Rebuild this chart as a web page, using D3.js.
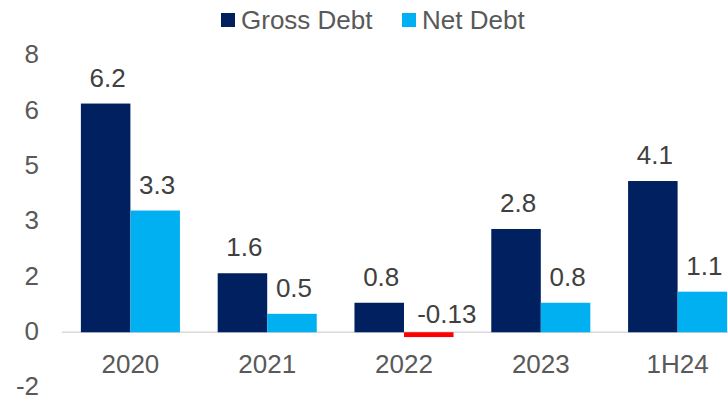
<!DOCTYPE html>
<html>
<head>
<meta charset="utf-8">
<script src="https://cdn.jsdelivr.net/npm/d3@7"></script>
<style>
  body { margin: 0; background: #fff; }
  svg { display: block; font-family: "Liberation Sans", Arial, sans-serif; }
</style>
</head>
<body>
<div id="chart"></div>
<script>
// data
const categories = ["2020", "2021", "2022", "2023", "1H24"];
const grossDebt = [6.2, 1.6, 0.8, 2.8, 4.1];
const netDebt = [3.3, 0.5, -0.13, 0.8, 1.1];
const seriesNames = ["Gross Debt", "Net Debt"];
const yTicks = [-1.5, 0, 1.5, 3, 4.5, 6, 7.5];

const width = 728, height = 402;
const colors = ["#002060", "#00B0F0"];
const negColor = "#FF0000";

const svg = d3.select("#chart").append("svg")
  .attr("width", width)
  .attr("height", height);

// scales
const x = d3.scaleBand()
  .domain(categories)
  .range([62, 746]);

const y = d3.scaleLinear()
  .domain([-1.5, 7.5])
  .range([387.6, 55.6]);

const barW = x.bandwidth() * 0.362;

// y axis labels (ticks 1.5 apart, rounded to whole numbers, plain hyphen)
const fmt = d => d.toFixed(0);
const yAxis = svg.append("g")
  .attr("transform", "translate(39,0)")
  .call(d3.axisLeft(y).tickValues(yTicks).tickSize(0).tickPadding(0).tickFormat(fmt));
yAxis.select(".domain").remove();
yAxis.selectAll("text")
  .attr("dy", "0.28em")
  .attr("font-size", "26px")
  .attr("font-family", "Liberation Sans, Arial, sans-serif")
  .attr("fill", "#595959");

// zero line
svg.append("line")
  .attr("x1", 62).attr("x2", width)
  .attr("y1", y(0)).attr("y2", y(0))
  .attr("stroke", "#D9D9D9")
  .attr("stroke-width", 1.5);

// bars
const series = [grossDebt, netDebt];
series.forEach((vals, s) => {
  const g = svg.append("g");
  g.selectAll("rect")
    .data(vals)
    .enter()
    .append("rect")
    .attr("x", (d, i) => x(categories[i]) + x.bandwidth() / 2 - barW + s * barW)
    .attr("width", barW)
    .attr("y", d => y(Math.max(0, d)))
    .attr("height", d => Math.abs(y(d) - y(0)))
    .attr("fill", d => d < 0 ? negColor : colors[s]);

  // value labels
  g.selectAll("text")
    .data(vals)
    .enter()
    .append("text")
    .attr("x", (d, i) => x(categories[i]) + x.bandwidth() / 2 - barW / 2 + s * barW + (d < 0 ? 18 : 2))
    .attr("y", d => y(Math.max(0, d)) - (d < 0 ? 9 : 17))
    .attr("text-anchor", "middle")
    .attr("font-size", "26px")
    .attr("fill", "#404040")
    .text(d => d);
});

// x axis labels
svg.append("g")
  .selectAll("text")
  .data(categories)
  .enter()
  .append("text")
  .attr("x", d => x(d) + x.bandwidth() / 2)
  .attr("y", y(0) + 41)
  .attr("text-anchor", "middle")
  .attr("font-size", "26px")
  .attr("fill", "#595959")
  .text(d => d);

// legend
const legendX = [221, 402];
const legend = svg.append("g");
seriesNames.forEach((name, i) => {
  legend.append("rect")
    .attr("x", legendX[i]).attr("y", 13)
    .attr("width", 14).attr("height", 14)
    .attr("fill", colors[i]);
  legend.append("text")
    .attr("x", legendX[i] + 20).attr("y", 29)
    .attr("font-size", "26px")
    .attr("fill", "#595959")
    .text(name);
});
</script>
</body>
</html>
